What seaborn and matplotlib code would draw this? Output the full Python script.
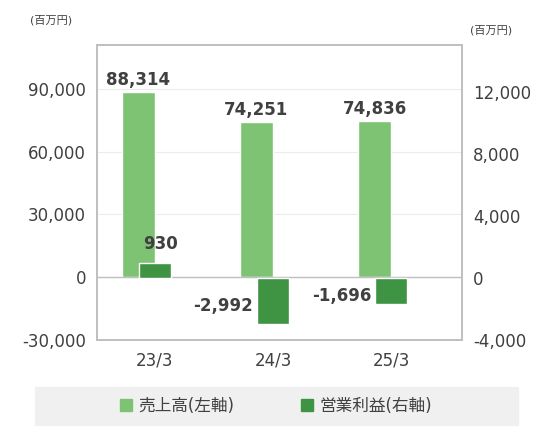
import matplotlib
matplotlib.use("Agg")
import matplotlib.pyplot as plt
import seaborn as sns
from matplotlib.patches import Patch, Rectangle

periods = ["23/3", "24/3", "25/3"]
sales = [88314, 74251, 74836]
op_income = [930, -2992, -1696]
sales_labels = ["88,314", "74,251", "74,836"]
op_labels = ["930", "-2,992", "-1,696"]
left_ticks = [-30000, 0, 30000, 60000, 90000]
right_ticks = [-4000, 0, 4000, 8000, 12000]

light = "#7dc373"
dark = "#3f9443"

sns.set_theme(style="white")
plt.rcParams["font.family"] = ["DejaVu Sans", "Noto Sans CJK JP"]

fig = plt.figure(figsize=(5.53, 4.37), dpi=100)
fig.patches.append(Rectangle((35 / 553, 1 - 425 / 437), 483 / 553, 38 / 437,
                             transform=fig.transFigure, color="#f0f0f0", zorder=0))
ax = fig.add_axes([97 / 553, 1 - 340 / 437, 365 / 553, 295 / 437])
ax2 = ax.twinx()

sns.barplot(x=periods, y=sales, ax=ax, color=light, width=0.28, saturation=1)
for p in ax.patches:
    p.set_x(p.get_x() - 0.14)
sns.barplot(x=periods, y=op_income, ax=ax2, color=dark, width=0.27, saturation=1)

ax.set_ylim(-30000, 111000)
ax2.set_ylim(-4000, 15000)
ax.set_xlim(-0.49, 2.6)
ax.set_yticks(left_ticks)
ax.set_yticklabels([f"{v:,}" for v in left_ticks])
ax2.set_yticks(right_ticks)
ax2.set_yticklabels([f"{v:,}" for v in right_ticks])
ax.yaxis.grid(True, color="#ececec", lw=0.8)
ax.axhline(0, color="#bfbfbf", lw=1)
for a in (ax, ax2):
    a.tick_params(labelsize=12, colors="#404040", length=0, pad=8)
    for s in a.spines.values():
        s.set_color("#bfbfbf")
ax.set_xlabel("")
ax.set_ylabel("")
ax2.set_ylabel("")

for i, (v, t) in enumerate(zip(sales, sales_labels)):
    ax.text(i - 0.14, v + 1500, t, ha="center", va="bottom", fontsize=12,
            fontweight="bold", color="#404040")
for i, (v, t) in enumerate(zip(op_income, op_labels)):
    if v > 0:
        ax2.text(i + 0.05, v + 700, t, ha="center", va="bottom", fontsize=12,
                 fontweight="bold", color="#404040")
    else:
        ax2.text(i - 0.17, v / 2 - 300, t, ha="right", va="center", fontsize=12,
                 fontweight="bold", color="#404040")

fig.text(30 / 553, 1 - 20 / 437, "(百万円)", fontsize=8, color="#404040", va="center")
fig.text(470 / 553, 1 - 30 / 437, "(百万円)", fontsize=8, color="#404040", va="center")

handles = [Patch(color=light, label="売上高(左軸)"), Patch(color=dark, label="営業利益(右軸)")]
leg = fig.legend(handles=handles, loc="center", ncol=2, bbox_to_anchor=(276 / 553, 1 - 406 / 437),
                 frameon=False, fontsize=12, handlelength=0.7, handleheight=0.7,
                 columnspacing=4, handletextpad=0.4)
for t in leg.get_texts():
    t.set_color("#404040")

fig.savefig("out.png", dpi=100)
